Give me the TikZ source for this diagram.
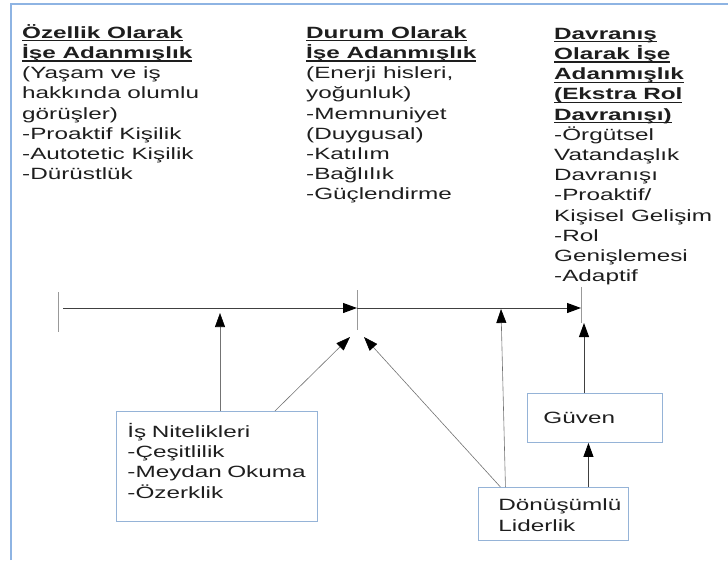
\documentclass[tikz,border=0pt]{standalone}
\usepackage{fontspec}
\setmainfont{Liberation Sans}[FakeStretch=1.49]
\usetikzlibrary{arrows.meta}

\definecolor{frameblue}{HTML}{8EB4E3}
\definecolor{boxblue}{HTML}{95B3D7}
\definecolor{ink}{HTML}{1E1E1E}

% bold heading with an underline at fixed depth
\newcommand{\hdul}[1]{\setbox0=\hbox{\textbf{#1}}\rlap{\rule[-3pt]{\wd0}{1.2pt}}\box0}

\tikzstyle{column}=[anchor=north west, inner sep=0pt, align=left, text=ink]
\tikzstyle{infobox}=[draw=boxblue, line width=0.9pt, anchor=north west, align=left, text=ink,
  inner xsep=6pt, inner ysep=0pt]
\tikzstyle{dep}=[-{Triangle[length=14pt,width=10pt,color=black]}, line width=0.9pt, draw=black!75]
\tikzstyle{feed}=[-{Triangle[length=14pt,width=10pt,color=black]}, line width=0.6pt, draw=black!55]
\tikzstyle{tick}=[line width=1pt, draw=black!40]

\begin{document}
\begin{tikzpicture}[x=1pt, y=-1pt, font={\fontsize{16.3}{20.2}\selectfont}]
  \useasboundingbox (0,0) rectangle (728,560);
  \draw[frameblue, line width=1.2pt] (11,560) -- (11,4) -- (728,4);

  % the three kinds of engagement
  \node[column] (ozellik) at (22,24) {\strut\hdul{Özellik Olarak}\\
    \hdul{İşe Adanmışlık}\\ (Yaşam ve iş\\ hakkında olumlu\\ görüşler)\\
    -Proaktif Kişilik\\ -Autotetic Kişilik\\ -Dürüstlük};
  \node[column] (durum) at (306,24) {\strut\hdul{Durum Olarak}\\
    \hdul{İşe Adanmışlık}\\ (Enerji hisleri,\\ yoğunluk)\\ -Memnuniyet\\
    (Duygusal)\\ -Katılım\\ -Bağlılık\\ -Güçlendirme};
  \node[column] (davranis) at (554,25) {\strut\hdul{Davranış}\\
    \hdul{Olarak İşe}\\ \hdul{Adanmışlık}\\ \hdul{(Ekstra Rol}\\
    \hdul{Davranışı)}\\ -Örgütsel\\ Vatandaşlık\\ Davranışı\\ -Proaktif/\\
    Kişisel Gelişim\\ -Rol\\ Genişlemesi\\ -Adaptif};

  % antecedents
  \node[infobox, minimum width=201pt, minimum height=110pt, text width=189pt]
    (nitelik) at (116,411) {\leftskip=5pt\strut İş Nitelikleri\\ -Çeşitlilik\\ -Meydan Okuma\\
    -Özerklik\rule[-11.5pt]{0pt}{0pt}\par};
  \node[infobox, minimum width=135pt, minimum height=49pt, text width=123pt,
    text height=14.1pt, text depth=3pt] (guven) at (527,393) {\leftskip=10pt Güven\par};
  \node[infobox, minimum width=150pt, minimum height=53pt, text width=138pt]
    (lider) at (478,487) {\leftskip=14pt\strut Dönüşümlü\\ Liderlik\par};

  % time line
  \coordinate (start) at (63,308);
  \coordinate (mid) at (357,308);
  \coordinate (end) at (581,308);
  \draw[tick] (58,292) -- (58,332);
  \draw[tick] (357,290) -- (357,330);
  \draw[tick] (581,287) -- (581,323);
  \draw[dep, line width=1pt] (start) -- (mid);
  \draw[dep, line width=1pt] (mid) -- (end);

  \coordinate (q1) at (220,313);
  \coordinate (midlow) at (357,337);
  \coordinate (q2) at (501,309);
  \coordinate (q3) at (584,323);
  \draw[feed] (nitelik.north -| q1) -- (q1);
  \draw[feed] ([xshift=58pt]nitelik.north) -- ([xshift=-7pt]midlow);
  \draw[feed] ([xshift=-53pt]lider.north) -- ([xshift=7pt]midlow);
  \draw[feed] ([xshift=-48pt]lider.north) -- (q2);
  \draw[dep] ([xshift=35pt]lider.north) -- ([xshift=35pt]lider.north |- guven.south);
  \draw[dep] (guven.north -| q3) -- (q3);
\end{tikzpicture}
\end{document}
